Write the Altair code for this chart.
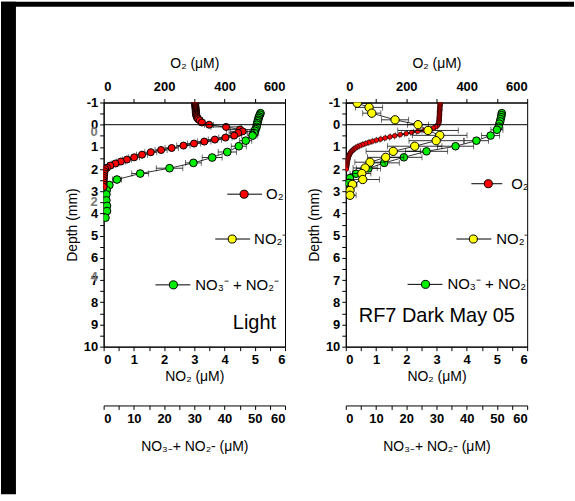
import altair as alt
import pandas as pd

FONT = "Liberation Sans"

# ---------------- Light panel ----------------
light_o2_depth = [-1.0, -0.95, -0.9, -0.85, -0.8, -0.75, -0.7, -0.65, -0.6, -0.55, -0.5, -0.45, -0.4, -0.35, -0.3, -0.25, -0.2,
                  -0.1, 0.0, 0.1, 0.22, 0.3, 0.37, 0.49, 0.58, 0.67, 0.76, 0.85, 0.94, 1.05, 1.14, 1.24, 1.35, 1.47, 1.57, 1.66, 1.75, 1.84, 1.94,
                  2.0, 2.1, 2.2, 2.3, 2.4, 2.5, 2.6, 2.7, 2.8]
light_o2 = [303, 303, 303, 303, 304, 304, 304, 305, 305, 305, 306, 306, 307, 308, 310, 313, 318,
            325, 349, 405, 451, 460, 445, 432, 403, 368, 333, 299, 264, 225, 190, 156, 127, 101, 77, 57, 39, 22, 11,
            5, 3, 2, 1, 1, 0, 0, 0, 0]
light_o2_err = [3, 3, 3, 3, 3, 3, 3, 3, 3, 3, 3, 3, 3, 4, 5, 6, 8,
                10, 15, 50, 45, 40, 30, 25, 22, 22, 22, 22, 22, 22, 20, 20, 18, 18, 15, 15, 12, 10, 8,
                4, 3, 2, 1, 1, 1, 1, 1, 1]

light_nox_depth = [-0.52, -0.45, -0.37, -0.3, -0.22, -0.15, -0.07, 0.0, 0.1, 0.2, 0.27, 0.38, 0.49, 0.72, 0.97, 1.23, 1.48,
                   1.72, 1.96, 2.2, 2.47, 2.72, 2.95, 3.14, 3.41, 3.66, 3.89, 4.19]
light_nox = [51.9, 51.7, 51.4, 51.3, 51.1, 51.0, 50.8, 50.7, 50.6, 50.3, 50.0, 49.8, 49.3, 47.0, 44.7, 40.9, 35.9,
             29.7, 21.8, 12.1, 4.4, 1.9, 1.0, 0.9, 0.9, 1.1, 1.1, 0.6]
light_nox_err = [0.5, 0.5, 0.5, 0.5, 0.5, 0.5, 0.5, 0.6, 0.8, 1.0, 1.2, 1.5, 1.5, 2.0, 2.5, 3.0, 3.3,
                 2.6, 4.4, 2.8, 1.5, 0.8, 0.3, 0.3, 0.3, 0.3, 0.3, 0.3]

# ---------------- Dark panel ----------------
dark_o2_depth = [-1.0, -0.95, -0.9, -0.85, -0.8, -0.75, -0.7, -0.65, -0.6, -0.55, -0.5, -0.45, -0.4, -0.35, -0.3, -0.25, -0.2, -0.15, -0.1, -0.05,
                 0.0, 0.05, 0.1, 0.15, 0.2, 0.25, 0.3, 0.35, 0.4, 0.45, 0.5, 0.55, 0.6, 0.65, 0.7, 0.75, 0.8, 0.85, 0.9, 0.95,
                 1.0, 1.05, 1.1, 1.15, 1.2, 1.25, 1.3, 1.35, 1.4, 1.45, 1.5, 1.55, 1.6, 1.65, 1.7, 1.75, 1.8, 1.85, 1.9, 1.95, 2.0]
dark_o2 = [312, 312, 312, 312, 311, 311, 311, 311, 310, 310, 310, 310, 310, 309, 309, 309, 309, 308, 308, 307,
           305, 302, 297, 289, 278, 260, 238, 218, 200, 180, 162, 146, 130, 115, 101, 88, 76, 65, 55, 46,
           38, 32, 27, 23, 19, 16, 14, 12, 10, 9, 8, 7, 6, 5, 5, 4, 4, 3, 3, 2, 2]
dark_o2_err = [2, 2, 2, 2, 2, 2, 2, 2, 2, 2, 2, 2, 2, 2, 2, 2, 2, 2, 2, 2,
               3, 4, 6, 8, 10, 12, 14, 15, 15, 15, 15, 15, 14, 13, 12, 11, 10, 9, 8, 7,
               6, 5, 5, 4, 4, 3, 3, 3, 2, 2, 2, 2, 2, 2, 1, 1, 1, 1, 1, 1, 1]

dark_no2_depth = [-0.97, -0.78, -0.52, -0.22, 0.0, 0.26, 0.48, 0.72, 0.97, 1.2, 1.47, 1.69, 1.95, 2.2, 2.47, 2.69, 2.96, 3.18]
dark_no2 = [0.38, 0.77, 0.86, 1.63, 2.39, 2.72, 3.11, 2.99, 2.28, 1.57, 1.32, 0.80, 0.64, 0.53, 0.56, 0.22, 0.14, 0.14]
dark_no2_err = [0.45, 0.45, 0.3, 0.45, 0.35, 1.0, 0.9, 0.9, 0.9, 0.9, 0.6, 0.5, 0.4, 0.3, 0.55, 0.15, 0.1, 0.2]

dark_nox_depth = [-0.52, -0.43, -0.34, -0.25, -0.15, -0.05, 0.08, 0.23, 0.49, 0.72, 0.97, 1.2, 1.47, 1.72, 1.97, 2.21, 2.4, 2.62]
dark_nox = [51.6, 51.5, 51.4, 51.2, 51.1, 50.8, 50.6, 50.0, 47.9, 43.2, 36.3, 26.7, 19.2, 12.7, 7.5, 3.4, 1.4, 0.9]
dark_nox_err = [0.8, 0.8, 0.8, 0.8, 0.8, 0.8, 1.0, 2.0, 3.0, 4.0, 6.0, 7.0, 6.0, 5.0, 4.0, 2.0, 1.0, 1.0]

# ---------------- axes ----------------
o2_ticks = [0, 100, 200, 300, 400, 500, 600]
no2_ticks = [0, 0.5, 1, 1.5, 2, 2.5, 3, 3.5, 4, 4.5, 5, 5.5, 6]
nox_ticks = [0, 5, 10, 15, 20, 25, 30, 35, 40, 45, 50, 55, 60]
depth_ticks = [-1, -0.5, 0, 0.5, 1, 1.5, 2, 2.5, 3, 3.5, 4, 4.5, 5, 5.5, 6, 6.5, 7, 7.5, 8, 8.5, 9, 9.5, 10]
ghost_labels = ["0", "2", "4"]
ghost_depth = [0.35, 3.5, 6.85]

W, H = 182, 245
OX, OY = 103, 101

common = dict(labelFont=FONT, labelFontWeight="bold", labelFontSize=13, labelColor="black",
              titleFont=FONT, titleFontWeight="normal", titleFontSize=14, titleColor="black",
              tickColor="black", domainColor="black", tickWidth=1, domainWidth=1, grid=False)

yaxis = alt.Axis(orient="left", values=depth_ticks, title="Depth (mm)",
                 labelExpr="datum.value % 1 == 0 ? '' + datum.value : ''",
                 tickSize=4, labelPadding=2, titlePadding=4, **common)
o2_axis = alt.Axis(orient="top", values=o2_ticks, title="O₂ (μM)",
                   labelExpr="datum.value % 200 == 0 ? '' + datum.value : ''",
                   tickSize=4, labelPadding=5, titlePadding=10, **common)
no2_axis = alt.Axis(orient="bottom", values=no2_ticks, title="NO₂ (μM)",
                    labelExpr="datum.value % 1 == 0 ? '' + datum.value : ''",
                    tickSize=4, labelPadding=3, titlePadding=3, **common)
nox_axis = alt.Axis(orient="bottom", offset=59, values=nox_ticks, title="NO₃₋+ NO₂- (μM)",
                    labelExpr="datum.value % 10 == 0 ? '' + datum.value : ''",
                    tickSize=4, labelPadding=3, titlePadding=14, **common)


def yenc():
    return alt.Y("depth:Q", scale=alt.Scale(domain=[-1, 10], reverse=True, nice=False, zero=False), axis=yaxis)


def frame(depth, vals, errs):
    assert len(depth) == len(vals) == len(errs)
    return pd.DataFrame({"depth": depth, "v": vals,
                         "lo": [v - e for v, e in zip(vals, errs)],
                         "hi": [v + e for v, e in zip(vals, errs)]})


def series(df, dom, xaxis, fill, size, sw, cap):
    base = alt.Chart(df)

    def X(f):
        return alt.X(f"{f}:Q", scale=alt.Scale(domain=dom, nice=False, zero=False), axis=xaxis)

    line = base.mark_line(color="black", strokeWidth=0.8, clip=True).encode(x=X("v"), y=yenc(), order="depth:Q")
    bar = base.mark_rule(color="black", strokeWidth=0.8, clip=True).encode(x=X("lo"), x2="hi:Q", y=yenc())
    cl = base.mark_tick(orient="vertical", color="black", thickness=0.8, size=cap, clip=True).encode(x=X("lo"), y=yenc())
    ch = base.mark_tick(orient="vertical", color="black", thickness=0.8, size=cap, clip=True).encode(x=X("hi"), y=yenc())
    pts = base.mark_circle(color=fill, stroke="black", strokeWidth=sw, opacity=1, size=size, clip=True).encode(x=X("v"), y=yenc())
    return alt.layer(line, bar, cl, ch, pts)


def zero_line():
    df = pd.DataFrame({"depth": [0], "lo": [0], "hi": [6]})
    return alt.Chart(df).mark_rule(color="black", strokeWidth=1).encode(
        x=alt.X("lo:Q", scale=alt.Scale(domain=[0, 6], nice=False, zero=False), axis=no2_axis),
        x2="hi:Q", y=yenc())


ONE = pd.DataFrame({"a": [0]})


def legend_entry(x1, x2, xm, y, xt, label, fill):
    r = alt.Chart(ONE).mark_rule(color="black", strokeWidth=1).encode(x=alt.value(x1), x2=alt.value(x2), y=alt.value(y))
    d = alt.Chart(ONE).mark_circle(color=fill, stroke="black", strokeWidth=1, opacity=1, size=65).encode(x=alt.value(xm), y=alt.value(y))
    t = alt.Chart(ONE).mark_text(align="left", baseline="middle", font=FONT, fontSize=15, color="black", clip=True).encode(
        x=alt.value(xt), y=alt.value(y), text=alt.value(label))
    return [r, d, t]


def big_text(x, y, label, align):
    return alt.Chart(ONE).mark_text(align=align, baseline="middle", font=FONT, fontSize=20, color="black").encode(
        x=alt.value(x), y=alt.value(y), text=alt.value(label))


RED, YEL, GRN = "#ff0000", "#ffff00", "#00ee00"
VIEW = alt.ViewBackground(stroke="black", strokeWidth=1)

# ---- left (Light) ----
l_o2 = series(frame(light_o2_depth, light_o2, light_o2_err), [0, 600], o2_axis, RED, 50, 1, 6)
l_nox = series(frame(light_nox_depth, light_nox, light_nox_err), [0, 60], nox_axis, GRN, 60, 1, 6)
l_no2 = alt.layer(zero_line())

ghost = alt.Chart(pd.DataFrame({"depth": ghost_depth, "lab": ghost_labels})).mark_text(
    align="right", baseline="middle", font=FONT, fontSize=13, fontWeight="bold", color="#777777").encode(
    x=alt.value(-6), y=yenc(), text="lab:N")

# black frame strips of the page (left and top edges)
border = [
    alt.Chart(ONE).mark_rect(color="black").encode(x=alt.value(-OX), x2=alt.value(-OX + 15), y=alt.value(-OY), y2=alt.value(494 - OY)),
    alt.Chart(ONE).mark_rect(color="black").encode(x=alt.value(-OX), x2=alt.value(575 - OX), y=alt.value(-OY), y2=alt.value(-OY + 5)),
]

left_layers = [l_nox, l_o2, l_no2, ghost] + border
left_layers += legend_entry(124, 159, 141, 92, 163, "O₂", RED)
left_layers += legend_entry(112, 147, 129, 137, 151, "NO₂⁻", YEL)
left_layers += legend_entry(52, 87, 70, 183, 92, "NO₃⁻ + NO₂⁻", GRN)
left_layers += [big_text(173, 221, "Light", "right")]
left = alt.layer(*left_layers).resolve_scale(x="independent").properties(width=W, height=H, view=VIEW)

# ---- right (Dark) ----
r_o2 = series(frame(dark_o2_depth, dark_o2, dark_o2_err), [0, 600], o2_axis, RED, 22, 0.6, 5)
r_nox = series(frame(dark_nox_depth, dark_nox, dark_nox_err), [0, 60], nox_axis, GRN, 58, 1, 6)
r_no2 = alt.layer(zero_line(), series(frame(dark_no2_depth, dark_no2, dark_no2_err), [0, 6], no2_axis, YEL, 70, 1, 6))

right_layers = [r_nox, r_o2, r_no2]
right_layers += legend_entry(126, 157, 143, 81.5, 166, "O₂", RED)
right_layers += legend_entry(111, 146, 128, 137, 151, "NO₂⁻", YEL)
right_layers += legend_entry(62, 97, 80, 182.5, 102, "NO₃⁻ + NO₂⁻", GRN)
right_layers += [big_text(13, 214, "RF7 Dark May 05", "left")]
right = alt.layer(*right_layers).resolve_scale(x="independent").properties(width=W, height=H, view=VIEW)

chart = alt.hconcat(left, right, spacing=61, bounds="flush").properties(padding=0).configure(
    background="white", font=FONT).configure_view(strokeWidth=0)

chart.save("out.html", embed_options={"renderer": "svg", "actions": False})
